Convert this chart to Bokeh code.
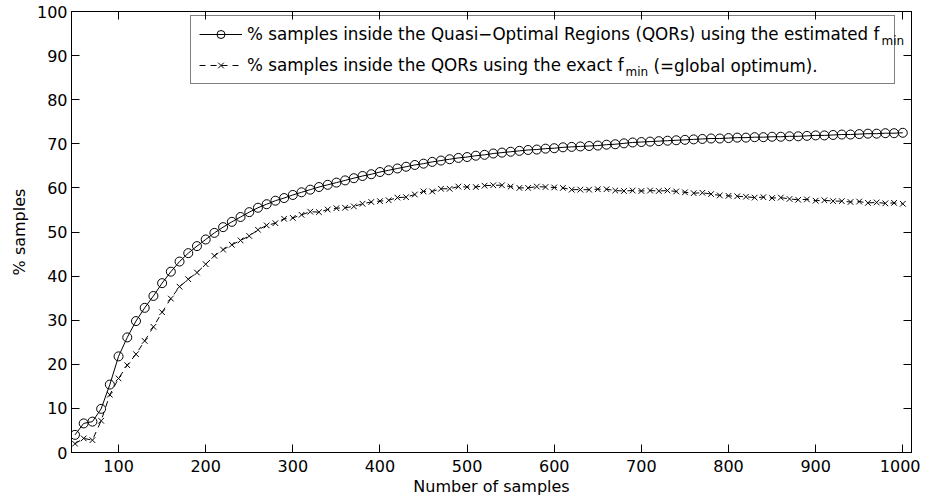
from bokeh.plotting import figure
from bokeh.models import Range1d, LinearAxis, FixedTicker, Legend, LegendItem, Label
from bokeh.core.properties import value
from bokeh.embed import file_html
from bokeh.resources import INLINE

# ---------------- data ----------------
n_samples = list(range(50, 1001, 10))

pct_estimated = [
    4.0, 6.6, 7.0, 9.9, 15.4, 21.8, 26.1, 29.8, 32.8, 35.5,
    38.4, 41.0, 43.3, 45.2, 46.8, 48.3, 49.8, 51.1, 52.3, 53.4,
    54.5, 55.5, 56.3, 57.1, 57.7, 58.4, 59.0, 59.6, 60.2, 60.7,
    61.2, 61.7, 62.2, 62.7, 63.1, 63.6, 64.0, 64.4, 64.8, 65.2,
    65.5, 65.9, 66.2, 66.5, 66.8, 67.0, 67.3, 67.5, 67.8, 68.0,
    68.2, 68.4, 68.6, 68.7, 68.9, 69.0, 69.2, 69.3, 69.4, 69.5,
    69.6, 69.8, 69.9, 70.1, 70.3, 70.4, 70.5, 70.6, 70.7, 70.8,
    70.9, 71.0, 71.1, 71.2, 71.2, 71.3, 71.4, 71.4, 71.5, 71.5,
    71.6, 71.6, 71.7, 71.7, 71.8, 71.9, 71.9, 72.0, 72.1, 72.1,
    72.2, 72.3, 72.3, 72.4, 72.4, 72.5,
]

pct_exact = [
    2.0, 3.2, 2.8, 7.2, 13.1, 16.8, 19.8, 22.3, 25.3, 28.5,
    31.8, 34.9, 37.6, 39.3, 40.8, 42.7, 44.6, 46.0, 47.1, 48.1,
    49.1, 50.5, 51.5, 52.0, 53.0, 53.2, 53.9, 54.6, 54.5, 55.1,
    55.4, 55.5, 55.8, 56.4, 56.8, 57.0, 57.2, 57.8, 57.9, 58.5,
    59.2, 59.2, 59.8, 59.8, 60.3, 60.2, 60.2, 60.5, 60.6, 60.6,
    60.3, 60.0, 60.0, 60.3, 60.2, 60.1, 60.0, 59.6, 59.6, 59.6,
    59.7, 59.7, 59.4, 59.3, 59.4, 59.3, 59.4, 59.3, 59.4, 59.2,
    59.0, 58.8, 58.9, 58.6, 58.3, 58.2, 58.1, 58.0, 57.8, 57.9,
    57.7, 57.8, 57.5, 57.3, 57.4, 57.1, 57.2, 57.0, 57.0, 56.8,
    56.9, 56.6, 56.7, 56.5, 56.6, 56.4,
]

x_ticks = list(range(100, 1001, 100))
y_ticks = list(range(0, 101, 10))

label_estimated = "% samples inside the Quasi\u2212Optimal Regions (QORs) using the estimated f"
label_exact = "% samples inside the QORs using the exact f"
label_exact_tail = "(=global optimum)."
subscript = "min"
x_title = "Number of samples"
y_title = "% samples"

FONT = "DejaVu Sans"

# ---------------- figure ----------------
p = figure(width=920, height=499, output_backend="svg", toolbar_location=None,
           x_range=Range1d(46, 1010), y_range=Range1d(0, 100),
           min_border_left=71, min_border_right=9, min_border_top=11, min_border_bottom=47)
p.background_fill_color = "white"
p.border_fill_color = "white"
p.outline_line_color = "black"
p.outline_line_width = 1
p.xgrid.visible = False
p.ygrid.visible = False

l1 = p.line(n_samples, pct_estimated, line_color="black", line_width=1)
s1 = p.scatter(n_samples, pct_estimated, marker="circle", size=9,
               line_color="black", fill_color=None, line_width=1)
l2 = p.line(n_samples, pct_exact, line_color="black", line_width=1, line_dash="6 5")
s2 = p.scatter(n_samples, pct_exact, marker="x", size=8,
               line_color="black", line_width=1)

# axes
xa = p.xaxis[0]
xa.ticker = FixedTicker(ticks=x_ticks)
xa.axis_label = x_title
xa.major_label_standoff = 7
xa.axis_label_standoff = 2
xa.major_label_text_font_size = "16px"
xa.axis_label_text_font_size = "16px"

ya = p.yaxis[0]
ya.ticker = FixedTicker(ticks=y_ticks)
ya.axis_label = y_title
ya.major_label_standoff = 4
ya.axis_label_standoff = 5
ya.major_label_text_font_size = "16px"
ya.axis_label_text_font_size = "16px"

for ax in (xa, ya):
    ax.major_label_text_font = FONT
    ax.axis_label_text_font = FONT
    ax.axis_label_text_font_style = "normal"
    ax.major_label_text_color = "black"
    ax.axis_label_text_color = "black"
    ax.major_tick_in = 8
    ax.major_tick_out = 0
    ax.minor_tick_line_color = None
    ax.axis_line_color = "black"
    ax.major_tick_line_color = "black"

frame_axis_style = dict(major_label_text_font_size="1px", major_label_text_color=None,
                        major_label_standoff=0, major_tick_in=8, major_tick_out=0,
                        minor_tick_line_color=None, axis_line_color="black",
                        major_tick_line_color="black")
top = LinearAxis(ticker=FixedTicker(ticks=x_ticks), **frame_axis_style)
p.add_layout(top, "above")
right = LinearAxis(ticker=FixedTicker(ticks=y_ticks), **frame_axis_style)
p.add_layout(right, "right")

# legend (transparent background so the subscript labels stay visible)
legend = Legend(items=[
    LegendItem(label=value(label_estimated), renderers=[l1, s1]),
    LegendItem(label=value(label_exact), renderers=[l2, s2]),
], location=(119, 368), margin=0, padding=8, spacing=11,
   glyph_width=43, glyph_height=20, label_height=20, label_standoff=5,
   label_width=639, label_text_font=FONT, label_text_font_size="16.75px",
   label_text_color="black", border_line_color="black", border_line_width=1,
   background_fill_color="white", background_fill_alpha=0.0)
p.add_layout(legend)

sub_style = dict(text_font=FONT, text_font_size="12px", text_color="black",
                 text_baseline="middle", text_align="left")
p.add_layout(Label(x=975.6, y=93.42, text=subscript, **sub_style))
p.add_layout(Label(x=681.8, y=86.28, text=subscript, **sub_style))
p.add_layout(Label(x=713.9, y=87.53, text=label_exact_tail, text_font=FONT,
                   text_font_size="16.75px", text_color="black",
                   text_baseline="middle", text_align="left"))

open("out.html", "w").write(file_html(p, INLINE))
